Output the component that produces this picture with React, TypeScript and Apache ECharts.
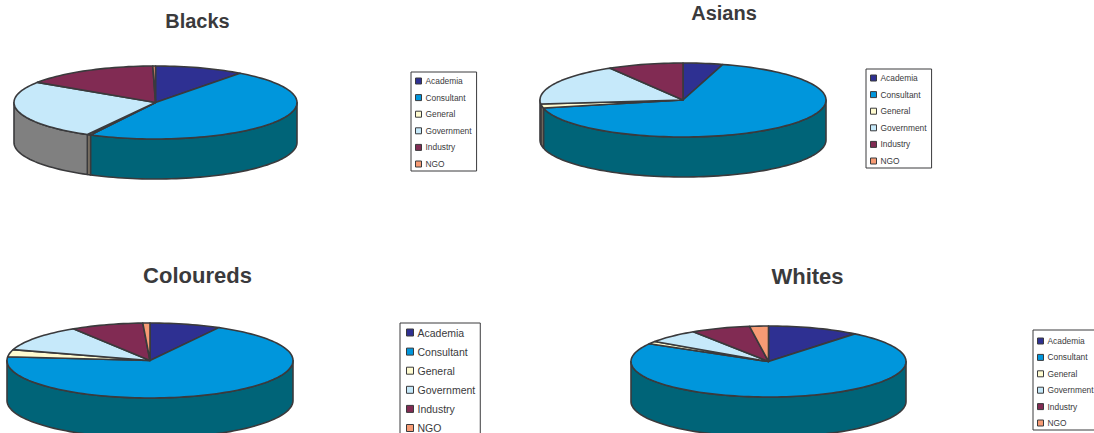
import React, { useEffect, useRef } from "react";
import * as echarts from "echarts";

const categories = ["Academia", "Consultant", "General", "Government", "Industry", "NGO"];
const groups = ["Blacks", "Asians", "Coloureds", "Whites"];

// Percentage share of each category, in category order
const blacks = [10.2, 47.4, 0.4, 26.3, 15.4, 0.3];
const asians = [4.5, 67, 1.8, 18.2, 8.5, 0];
const coloureds = [8, 68.6, 3.1, 11.3, 8.2, 0.8];
const whites = [10.8, 72.5, 1.2, 6.3, 7, 2.2];
const shares = [blacks, asians, coloureds, whites];

const topColors = ["#2E3092", "#0096DC", "#FFFBD0", "#C6E9FA", "#812B53", "#F79B74"];
const sideColors = ["#181A50", "#006478", "#8A7F6E", "#808080", "#40152A", "#7C4E3A"];

const OUTLINE = "#3A3A3C";
const FONT = '"Liberation Sans", Arial, sans-serif';

// Ellipse geometry of each tilted pie
const pies = [
  { cx: 155.5, cy: 102.5, rx: 141.5, ry: 36.5, depth: 40 },
  { cx: 683, cy: 100, rx: 143, ry: 37, depth: 40 },
  { cx: 150, cy: 360.5, rx: 143, ry: 37.5, depth: 40 },
  { cx: 768.5, cy: 361.5, rx: 137.5, ry: 35.5, depth: 40 },
];

const titlePlacement = [
  { x: 197.5, y: 11, size: 20 },
  { x: 724, y: 3, size: 20 },
  { x: 197.5, y: 264, size: 22 },
  { x: 807.5, y: 265, size: 22 },
];

const legendPlacement = [
  { left: 411, top: 72, size: 8.4, mark: 6, step: 17, pad: [5, 5, 3, 4] },
  { left: 866, top: 69, size: 8.4, mark: 6, step: 17, pad: [5, 5, 3, 4] },
  { left: 400, top: 323, size: 10.5, mark: 7, step: 18.6, pad: [4, 5, 4, 6] },
  { left: 1033, top: 330, size: 8.4, mark: 6, step: 16.8, pad: [7, 5, 3, 4] },
];

const rimPoint = (p: any, deg: number, drop = 0): number[] => {
  const t = (deg * Math.PI) / 180;
  return [p.cx + p.rx * Math.sin(t), p.cy - p.ry * Math.cos(t) + drop];
};

const arc = (p: any, from: number, to: number, drop = 0): number[][] => {
  const steps = Math.max(2, Math.ceil(Math.abs(to - from) / 2));
  const out: number[][] = [];
  for (let i = 0; i <= steps; i++) out.push(rimPoint(p, from + ((to - from) * i) / steps, drop));
  return out;
};

// Slices run clockwise from twelve o'clock; only the front half shows a wall
const renderSlice = (catIndex: number) => (_params: any, api: any) => {
  const p = pies[api.value(0)];
  const a0 = api.value(1);
  const a1 = api.value(2);
  const children: any[] = [];
  const edge = { stroke: OUTLINE, lineWidth: 1.6, lineJoin: "round" };
  const s = Math.max(a0, 90);
  const e = Math.min(a1, 270);
  if (s < e) {
    children.push({
      type: "polygon",
      z2: 1,
      shape: { points: [...arc(p, s, e), ...arc(p, e, s, p.depth)] },
      style: { fill: sideColors[catIndex], ...edge },
    });
  }
  if (a1 > a0) {
    children.push({
      type: "polygon",
      z2: 2,
      shape: { points: [[p.cx, p.cy], ...arc(p, a0, a1)] },
      style: { fill: topColors[catIndex], ...edge },
    });
  }
  return { type: "group", children };
};

// One row per pie: [pie index, start angle, end angle]
const rowsFor = (catIndex: number) =>
  shares.map((vals, pie) => {
    const before = vals.slice(0, catIndex).reduce((a, b) => a + b, 0);
    return [pie, (before / 100) * 360, ((before + vals[catIndex]) / 100) * 360];
  });

export default function App() {
  const ref = useRef<HTMLDivElement>(null);

  useEffect(() => {
    document.body.style.margin = "0";
    const chart = echarts.init(ref.current!, undefined, { renderer: "svg" });
    chart.setOption({
      animation: false,
      backgroundColor: "#ffffff",
      title: groups.map((text, i) => ({
        text,
        left: titlePlacement[i].x,
        top: titlePlacement[i].y,
        textAlign: "center",
        padding: 0,
        textStyle: {
          fontFamily: FONT,
          fontWeight: "bold",
          fontSize: titlePlacement[i].size,
          color: "#3A3A3C",
        },
      })),
      legend: legendPlacement.map((l) => ({
        data: categories,
        orient: "vertical",
        left: l.left,
        top: l.top,
        height: 160,
        padding: l.pad,
        icon: "rect",
        itemWidth: l.mark,
        itemHeight: l.mark,
        itemGap: l.step - l.size,
        selectedMode: false,
        backgroundColor: "#ffffff",
        borderColor: OUTLINE,
        borderWidth: 1,
        itemStyle: { borderColor: OUTLINE, borderWidth: 1 },
        textStyle: { fontFamily: FONT, fontSize: l.size, color: "#3A3A3C", padding: [0, 0, 0, -1] },
      })),
      series: categories.map((name, i) => ({
        type: "custom",
        name,
        coordinateSystem: "none",
        itemStyle: { color: topColors[i] },
        silent: true,
        renderItem: renderSlice(i),
        data: rowsFor(i),
      })),
    });
    return () => chart.dispose();
  }, []);

  return <div ref={ref} style={{ width: 1094, height: 433 }} />;
}
